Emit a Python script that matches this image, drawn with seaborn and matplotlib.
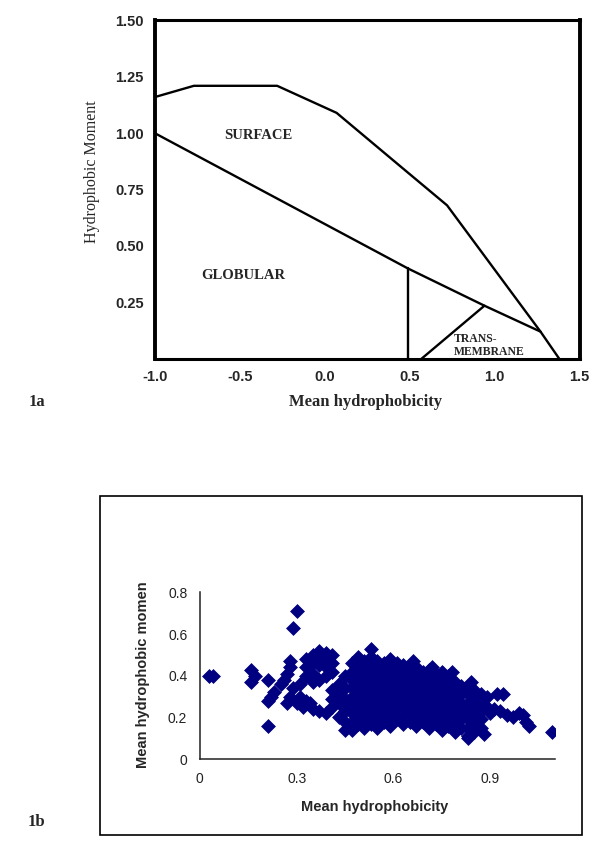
import numpy as np
import pandas as pd
import matplotlib
matplotlib.use("Agg")
import matplotlib.pyplot as plt
import seaborn as sns
from matplotlib.patches import Rectangle

# region << data 1a: region boundaries (mean hydrophobicity, hydrophobic moment) >>
surface_top_x = [-1.0, -0.77, -0.28, 0.07, 0.45, 0.72, 1.27, 1.38]
surface_top_y = [1.16, 1.21, 1.21, 1.09, 0.85, 0.68, 0.12, 0.0]
surface_bottom_x = [-1.0, 0.49, 0.94, 1.27]
surface_bottom_y = [1.00, 0.40, 0.235, 0.12]
globular_edge_x = [0.49, 0.49]
globular_edge_y = [0.0, 0.40]
trans_edge_x = [0.57, 0.94]
trans_edge_y = [0.0, 0.235]
xticks_a = [-1.0, -0.5, 0.0, 0.5, 1.0, 1.5]
yticks_a = [0.25, 0.50, 0.75, 1.00, 1.25, 1.50]
# endregion

# region << data 1b: scatter >>
# scattered points on the left / edges
edge_x = [0.03, 0.04, 0.16, 0.16, 0.17, 0.21, 0.21, 0.22, 0.23, 0.21, 0.26, 0.27, 0.28, 0.27,
          0.28, 0.25, 0.29, 0.29, 0.30, 0.28, 0.30, 0.31, 0.32, 0.31, 0.33, 0.35, 0.37, 0.39,
          0.34, 0.53, 0.89, 0.90, 0.91, 0.92, 0.94, 0.95, 0.97, 0.99, 1.00, 1.02, 1.01, 0.93,
          1.09, 0.89, 0.88, 0.83, 0.66, 0.72, 0.78, 0.84]
edge_y = [0.40, 0.40, 0.43, 0.37, 0.40, 0.38, 0.16, 0.30, 0.32, 0.28, 0.38, 0.41, 0.47, 0.27,
          0.30, 0.36, 0.34, 0.63, 0.71, 0.44, 0.27, 0.30, 0.25, 0.36, 0.28, 0.24, 0.23, 0.22,
          0.27, 0.53, 0.25, 0.22, 0.24, 0.31, 0.31, 0.21, 0.20, 0.22, 0.21, 0.16, 0.18, 0.23,
          0.13, 0.30, 0.12, 0.10, 0.47, 0.44, 0.42, 0.37]

# dense cloud, column by column
band_x = [0.33, 0.35, 0.37, 0.39, 0.41, 0.43, 0.45, 0.47, 0.49, 0.51, 0.53, 0.55, 0.57, 0.59,
          0.61, 0.63, 0.65, 0.67, 0.69, 0.71, 0.73, 0.75, 0.77, 0.79, 0.81, 0.83, 0.85, 0.87]
band_y = [
    [0.40, 0.44, 0.48],
    [0.37, 0.41, 0.46, 0.50],
    [0.38, 0.45, 0.49, 0.52],
    [0.40, 0.44, 0.48, 0.51],
    [0.25, 0.29, 0.33, 0.42, 0.46, 0.50],
    [0.20, 0.27, 0.31, 0.36],
    [0.14, 0.18, 0.23, 0.29, 0.34, 0.40],
    [0.14, 0.18, 0.22, 0.26, 0.30, 0.34, 0.38, 0.42, 0.46],
    [0.17, 0.21, 0.25, 0.29, 0.33, 0.37, 0.41, 0.45, 0.49],
    [0.15, 0.19, 0.23, 0.27, 0.31, 0.35, 0.39, 0.43, 0.47],
    [0.17, 0.21, 0.25, 0.29, 0.33, 0.37, 0.41, 0.45, 0.49],
    [0.15, 0.19, 0.23, 0.27, 0.31, 0.35, 0.39, 0.43, 0.47],
    [0.18, 0.22, 0.26, 0.30, 0.34, 0.38, 0.42, 0.46],
    [0.16, 0.20, 0.24, 0.28, 0.32, 0.36, 0.40, 0.44, 0.48],
    [0.19, 0.23, 0.27, 0.31, 0.35, 0.39, 0.43, 0.46],
    [0.17, 0.21, 0.25, 0.29, 0.33, 0.37, 0.41, 0.45],
    [0.18, 0.22, 0.26, 0.30, 0.34, 0.38, 0.42, 0.45],
    [0.16, 0.20, 0.24, 0.28, 0.32, 0.36, 0.40, 0.44],
    [0.18, 0.22, 0.26, 0.30, 0.34, 0.38, 0.42],
    [0.15, 0.19, 0.23, 0.27, 0.31, 0.35, 0.39, 0.43],
    [0.17, 0.21, 0.25, 0.29, 0.33, 0.37, 0.41],
    [0.14, 0.18, 0.22, 0.26, 0.30, 0.34, 0.38, 0.42],
    [0.16, 0.20, 0.24, 0.28, 0.32, 0.36, 0.40],
    [0.13, 0.17, 0.21, 0.25, 0.29, 0.33, 0.37],
    [0.15, 0.19, 0.23, 0.27, 0.31, 0.35],
    [0.11, 0.15, 0.19, 0.23, 0.27, 0.31, 0.35],
    [0.13, 0.17, 0.21, 0.25, 0.29, 0.33],
    [0.15, 0.19, 0.23, 0.27, 0.31],
]
xticks_b = [0, 0.3, 0.6, 0.9]
yticks_b = [0, 0.2, 0.4, 0.6, 0.8]
# endregion

rows = [(x, y) for x, ys in zip(band_x, band_y) for y in ys] + list(zip(edge_x, edge_y))
df_b = pd.DataFrame(rows, columns=['hydrophobicity', 'moment'])

sns.set_style('white')
plt.rcParams['font.family'] = ['Liberation Serif', 'DejaVu Serif']

fig = plt.figure(figsize=(6, 8.5), dpi=100)

# region << 1a >>
ax1 = fig.add_axes([0.258, 0.578, 0.708, 0.398])
for lx, ly in [(surface_top_x, surface_top_y), (surface_bottom_x, surface_bottom_y),
               (globular_edge_x, globular_edge_y), (trans_edge_x, trans_edge_y)]:
    sns.lineplot(x=lx, y=ly, sort=False, estimator=None, color='black', lw=1.7, ax=ax1)

ax1.set_xlim(-1.0, 1.5)
ax1.set_ylim(0, 1.5)
ax1.set_xticks(xticks_a, [f'{v:.1f}' for v in xticks_a])
ax1.set_yticks(yticks_a, [f'{v:.2f}' for v in yticks_a])
ax1.tick_params(axis='y', direction='in', length=7, width=1.5, pad=8)
ax1.tick_params(axis='x', direction='in', length=3, width=1, pad=8)
for lab in ax1.get_xticklabels() + ax1.get_yticklabels():
    lab.set_family('Liberation Sans')
    lab.set_fontweight('bold')
    lab.set_fontsize(10.5)
for side in ['left', 'right']:
    ax1.spines[side].set_linewidth(2.8)
for side in ['top', 'bottom']:
    ax1.spines[side].set_linewidth(2.2)
for sp in ax1.spines.values():
    sp.set_color('black')

ax1.text(-0.39, 0.99, 'SURFACE', ha='center', va='center', fontsize=10.5, weight='bold')
ax1.text(-0.48, 0.37, 'GLOBULAR', ha='center', va='center', fontsize=10.5, weight='bold')
ax1.text(0.76, 0.088, 'TRANS-', ha='left', va='center', fontsize=8.5, weight='bold')
ax1.text(0.76, 0.03, 'MEMBRANE', ha='left', va='center', fontsize=8.5, weight='bold')

fig.text(0.153, 0.798, 'Hydrophobic Moment', rotation=90, ha='center', va='center', fontsize=11.5)
fig.text(0.61, 0.527, 'Mean hydrophobicity', ha='center', va='center', fontsize=12, weight='bold')
fig.text(0.062, 0.527, '1a', ha='center', va='center', fontsize=12, weight='bold')
# endregion

# region << 1b >>
fig.add_artist(Rectangle((0.167, 0.0176), 0.803, 0.399, transform=fig.transFigure,
                         fill=False, edgecolor='black', lw=1.2))

ax2 = fig.add_axes([0.333, 0.107, 0.592, 0.196])
sns.scatterplot(data=df_b, x='hydrophobicity', y='moment', marker='D', s=50,
                color='#000080', edgecolor='#000080', linewidth=0.5, ax=ax2, legend=False)
ax2.set_xlim(0, 1.1)
ax2.set_ylim(0, 0.8)
ax2.set_xticks(xticks_b, ['0' if v == 0 else f'{v:.1f}' for v in xticks_b])
ax2.set_yticks(yticks_b, ['0' if v == 0 else f'{v:.1f}' for v in yticks_b])
ax2.set_xlabel('')
ax2.set_ylabel('')
ax2.tick_params(direction='inout', length=6, width=1, colors='#222222', pad=6, labelsize=10)
for lab in ax2.get_xticklabels() + ax2.get_yticklabels():
    lab.set_family('Liberation Sans')
ax2.spines[['top', 'right']].set_visible(False)
for side in ['left', 'bottom']:
    ax2.spines[side].set_linewidth(1.1)
    ax2.spines[side].set_color('#222222')

fig.text(0.625, 0.0506, 'Mean hydrophobicity', ha='center', va='center', fontsize=10.5,
         weight='bold', family='Liberation Sans')
fig.text(0.238, 0.206, 'Mean hydrophobic momen', rotation=90, ha='center', va='center',
         fontsize=10.5, weight='bold', family='Liberation Sans')
fig.text(0.06, 0.033, '1b', ha='center', va='center', fontsize=12, weight='bold')
# endregion

fig.savefig('out.png', dpi=100)
